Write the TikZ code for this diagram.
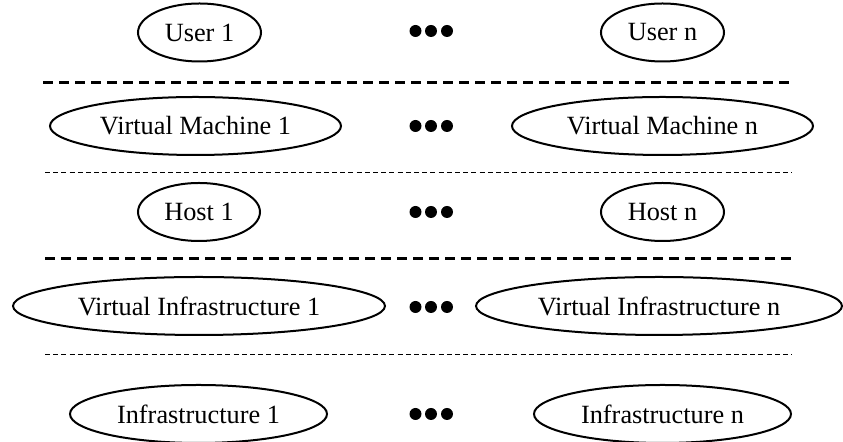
\documentclass[tikz,border=0pt]{standalone}
\usepackage{fontspec}
\setmainfont{Liberation Serif}
\usetikzlibrary{shapes.geometric}
\tikzset{
  layer/.style={ellipse, draw, line width=1pt, inner sep=0pt, minimum height=29pt,
    font=\fontsize{13.15pt}{16pt}\selectfont},
  dotmark/.style={circle, fill, inner sep=0pt, minimum size=6pt},
  thickdash/.style={line width=1.5pt, dash pattern=on 5pt off 3pt},
  thindash/.style={line width=0.5pt, dash pattern=on 2.5pt off 1.6pt}
}
\begin{document}
\begin{tikzpicture}[x=0.5pt, y=-0.5pt]
\useasboundingbox (0,0) rectangle (843,442);
% row 1
\node[layer, minimum width=61.5pt] (u1) at (199.5,32.5) {User 1};
\node[layer, minimum width=61.5pt] (un) at (662.5,32.5) {User n};
% row 2
\node[layer, minimum width=145.5pt] (vm1) at (195.5,126) {Virtual Machine 1};
\node[layer, minimum width=150.5pt] (vmn) at (662.5,126) {Virtual Machine n};
% row 3
\node[layer, minimum width=61pt] (h1) at (199,212) {Host 1};
\node[layer, minimum width=61.5pt] (hn) at (662.5,212) {Host n};
% row 4
\node[layer, minimum width=186pt] (vi1) at (199,306) {Virtual Infrastructure 1};
\node[layer, minimum width=183pt] (vin) at (659,306) {Virtual Infrastructure n};
% row 5
\node[layer, minimum width=128.5pt] (i1) at (198.5,414) {Infrastructure 1};
\node[layer, minimum width=128.5pt] (in) at (662.5,414) {Infrastructure n};
% dots
\foreach \r/\y in {1/31,2/126,3/212,4/307,5/414}{
  \node[dotmark] (d\r a) at (415.5,\y) {};
  \node[dotmark] (d\r b) at (431,\y) {};
  \node[dotmark] (d\r c) at (447,\y) {};
}
% separators
\draw[thickdash] (43,83) -- (792,83);
\draw[thindash] (45,173) -- (792,173);
\draw[thickdash] (45,259) -- (792,259);
\draw[thindash] (45,355) -- (792,355);
\end{tikzpicture}
\end{document}
